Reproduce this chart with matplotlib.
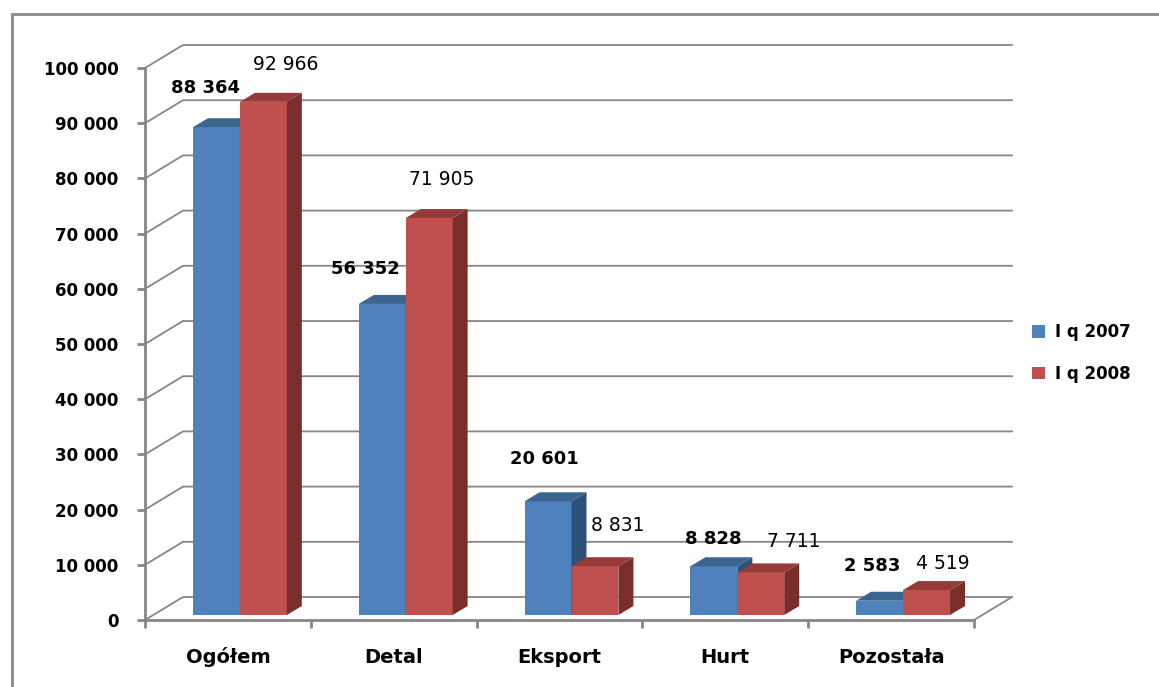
import matplotlib
matplotlib.use("Agg")
import matplotlib.pyplot as plt
from matplotlib.patches import Polygon, Patch
from matplotlib.lines import Line2D

categories = ["Ogółem", "Detal", "Eksport", "Hurt", "Pozostała"]
series_names = ["I q 2007", "I q 2008"]
q2007 = [88364, 56352, 20601, 8828, 2583]
q2008 = [92966, 71905, 8831, 7711, 4519]
yticks = list(range(0, 100001, 10000))

# label offsets in pixels (dx, dy up) relative to top-centre of each bar front
off2007 = [(-11, 39), (-17, 35), (-4, 42), (-1, 27), (-7, 35)]
off2008 = [(22, 37), (13, 39), (23, 41), (33, 31), (16, 27)]

W, H = 1159, 687
fig = plt.figure(figsize=(W / 100, H / 100), dpi=100)
x0, x1, y0, y1 = 145, 974, 620, 68
ax = fig.add_axes([x0 / W, (H - y0) / H, (x1 - x0) / W, (y0 - y1) / H])
ax.set_xlim(-0.5, 4.5)
ax.set_ylim(0, 100000)
ax.set_facecolor("none")

pxx = (x1 - x0) / 5.0          # pixels per category unit
pxy = (y0 - y1) / 100000.0     # pixels per value unit
def dxu(p): return p / pxx
def dyu(p): return p / pxy

grid_c = "#868686"
# back wall / floor / side wall lines
wdx, wdy = dxu(38), dyu(23)
for v in yticks:
    ax.plot([-0.5, -0.5 + wdx, 4.5 + wdx], [v, v + wdy, v + wdy],
            color=grid_c, lw=1.3, clip_on=False, zorder=1)
ax.plot([4.5, 4.5 + wdx], [0, wdy], color=grid_c, lw=1.3, clip_on=False, zorder=1)

# spines / ticks
for s in ["top", "right"]:
    ax.spines[s].set_visible(False)
for s in ["left", "bottom"]:
    ax.spines[s].set_color(grid_c)
    ax.spines[s].set_linewidth(2)
    ax.spines[s].set_zorder(2)
ax.set_yticks(yticks)
ax.set_yticklabels([f"{v:,}".replace(",", " ") for v in yticks],
                   fontsize=12, fontweight="bold")
ax.tick_params(axis="y", length=6, width=2, color=grid_c, pad=13)
ax.set_xticks([i - 0.5 for i in range(6)])
ax.set_xticklabels([])
ax.tick_params(axis="x", which="major", length=6, width=2, color=grid_c, direction="out")
ax.set_xticks(range(5), minor=True)
ax.set_xticklabels(categories, minor=True, fontsize=14, fontweight="bold", va="baseline")
ax.tick_params(axis="x", which="minor", length=0, pad=31)

# bars
w = 0.283
bx, by = dxu(12), dyu(5)
sdx, sdy = dxu(15), dyu(9)
styles = [
    dict(front="#4F81BD", top="#3B6491", side="#2E5177"),
    dict(front="#C0504D", top="#963A37", side="#7A2E2C"),
]
for i in range(5):
    for k, vals in enumerate([q2007, q2008]):
        v = vals[i]
        st = styles[k]
        left = i - w + k * w + bx
        right = left + w
        ax.bar(left, v, width=w, bottom=by, align="edge", color=st["front"],
               edgecolor="none", zorder=3 + 2 * i + k * 0.5, clip_on=False)
        top = v + by
        side = Polygon([(right, by), (right, top), (right + sdx, top + sdy), (right + sdx, by + sdy)],
                       closed=True, facecolor=st["side"], edgecolor="none",
                       zorder=3 + 2 * i + k * 0.5, clip_on=False)
        topf = Polygon([(left, top), (right, top), (right + sdx, top + sdy), (left + sdx, top + sdy)],
                       closed=True, facecolor=st["top"], edgecolor="none",
                       zorder=3 + 2 * i + k * 0.5, clip_on=False)
        ax.add_patch(side)
        ax.add_patch(topf)
        off = (off2007 if k == 0 else off2008)[i]
        ax.annotate(f"{v:,}".replace(",", " "), xy=((left + right) / 2, top),
                    xytext=off, textcoords="offset pixels", ha="center", va="center",
                    fontsize=13 if k == 0 else 13.5, fontweight="bold" if k == 0 else "normal",
                    zorder=20, annotation_clip=False)

# legend
handles = [Patch(facecolor=styles[0]["front"]), Patch(facecolor=styles[1]["front"])]
fig.legend(handles, series_names, loc="center left", bbox_to_anchor=(1017 / W, 1 - 353 / H),
           frameon=False, prop=dict(size=12, weight="bold"), handlelength=0.8,
           handleheight=0.8, handletextpad=0.6, labelspacing=1.4)

# outer border
fig.add_artist(Line2D([12 / W, 12 / W], [0, 1 - 14 / H], transform=fig.transFigure,
                      color="#8a8a8a", lw=2))
fig.add_artist(Line2D([12 / W, 1], [1 - 14 / H, 1 - 14 / H], transform=fig.transFigure,
                      color="#8a8a8a", lw=2))

fig.savefig("out.png", dpi=100)
